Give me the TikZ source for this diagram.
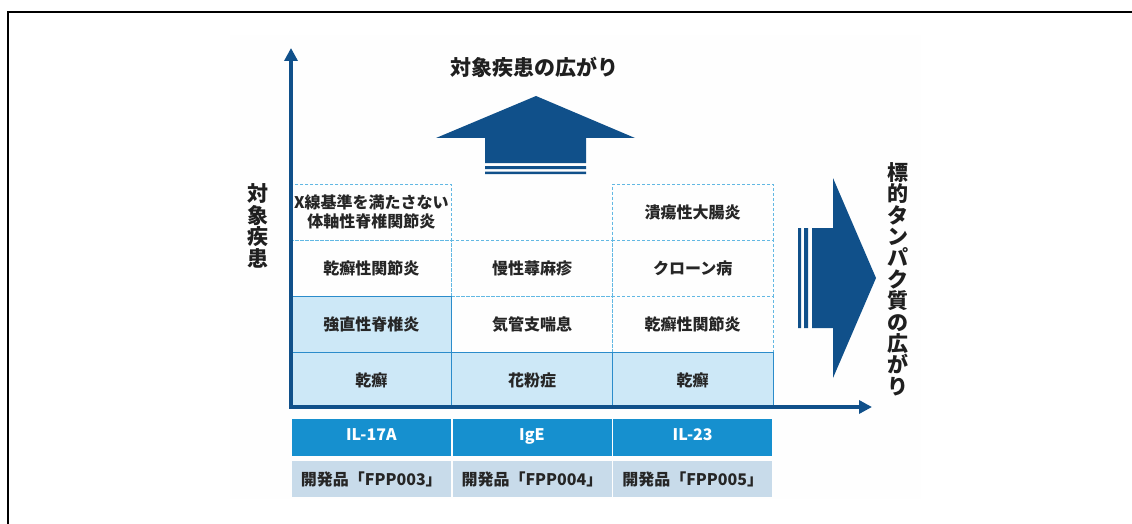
\documentclass[tikz,border=0pt]{standalone}
\usepackage{fontspec}
\setmainfont{Noto Sans CJK JP}
\usetikzlibrary{positioning, arrows.meta}
\definecolor{axisblue}{HTML}{10508A}
\definecolor{cellblue}{HTML}{CDE8F7}
\definecolor{lineblue}{HTML}{2B8CCB}
\definecolor{dashblue}{HTML}{62B8E3}
\definecolor{headblue}{HTML}{1690CF}
\definecolor{drugblue}{HTML}{C8DBEA}

\begin{document}
\begin{tikzpicture}[x=1pt, y=-1pt,
    cell/.style={minimum width=160.7pt, minimum height=56pt, inner sep=0pt, align=center,
        font=\fontsize{16}{19}\selectfont\bfseries, text=black!85},
    open cell/.style={cell, draw=dashblue, line width=1pt, dash pattern=on 3pt off 2pt},
    filled cell/.style={cell, draw=lineblue, fill=cellblue, line width=1pt},
    target/.style={cell, minimum width=159pt, minimum height=37pt, fill=headblue, text=white,
        text height=0.75em, text depth=0.2em},
    drug/.style={cell, minimum width=159pt, minimum height=36pt, fill=drugblue},
    big/.style={font=\fontsize{21}{21.4}\selectfont\bfseries, align=center, inner sep=0pt, text=black!88}]
    \useasboundingbox (0,0) rectangle (1132,524);
    \fill[black!0.4] (230,35) rectangle (921,499);
    \draw[line width=2pt] (8,524) -- (8,12) -- (1132,12);

    % disease grid
    \foreach \nm/\x/\y/\txt in {a1/371.3/212/{X線基準を満たさない\\体軸性脊椎関節炎}, c1/692.7/212/潰瘍性大腸炎,
        a2/371.3/268/乾癬性関節炎, b2/532/268/慢性蕁麻疹, c2/692.7/268/クローン病,
        b3/532/324/気管支喘息, c3/692.7/324/乾癬性関節炎}
        \node[open cell] (\nm) at (\x,\y) {\txt};
    \foreach \nm/\x/\y/\txt in {a3/371.3/324/強直性脊椎炎, a4/371.3/380/乾癬, b4/532/380/花粉症, c4/692.7/380/乾癬}
        \node[filled cell] (\nm) at (\x,\y) {\txt};

    % axes
    \coordinate (o) at (291,407);
    \coordinate (ytip) at (291,48);
    \coordinate (xtip) at (872,407);
    \draw[axisblue, line width=4pt, {Triangle[width=13pt,length=13pt]}-{Triangle[width=13pt,length=13pt]}]
        (ytip) -- (o) -- (xtip);

    % targets and products
    \foreach \nm/\x/\txt in {A/371.3/IL-17A, B/532/IgE, C/692.7/IL-23}
        \node[target] (hd\nm) at (\x,437.5) {\txt};
    \foreach \nm/\x/\txt in {A/371.3/003, B/532/004, C/692.7/005}
        \node[drug] (fpp\nm) at (\x,479) {開発品「FPP\txt」};

    % block arrows
    \fill[axisblue] (536,96) -- (635,138) -- (586,138) -- (586,163) -- (485,163) -- (485,138) -- (436,138) -- cycle;
    \fill[axisblue] (485,166) rectangle (586,169) (485,171.5) rectangle (586,174);
    \fill[axisblue] (876,278) -- (833,378) -- (833,328) -- (812,328) -- (812,228) -- (833,228) -- (833,178) -- cycle;
    \fill[axisblue] (798,228) rectangle (801,328) (804,228) rectangle (808,328);

    \node[big] (upttl) at (534,67) {対象疾患の広がり};
    \node[big] (sidettl) at (898,279) {標\\的\\タ\\ン\\パ\\ク\\質\\の\\広\\が\\り};
    \node[big] (axttl) at (258,226) {対\\象\\疾\\患};
\end{tikzpicture}
\end{document}
